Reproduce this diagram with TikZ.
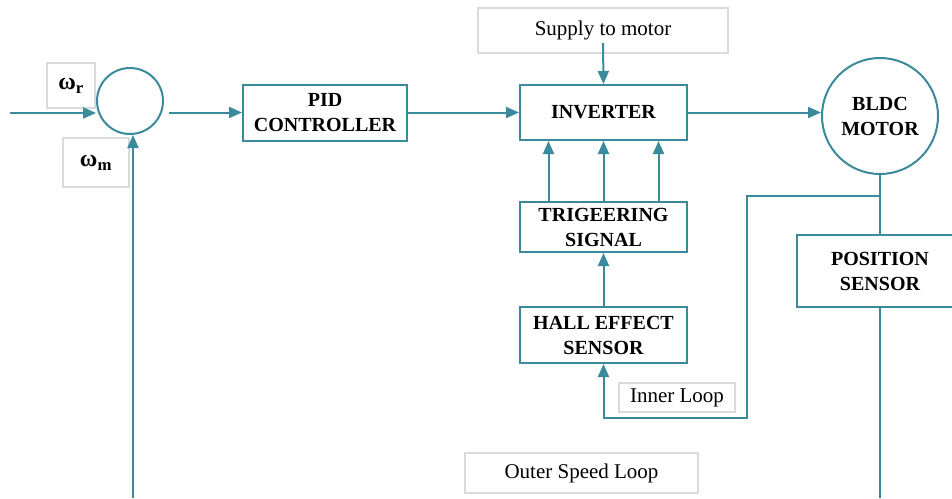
\documentclass[tikz,border=0pt]{standalone}
\usepackage{fontspec}
\setmainfont{Liberation Serif}
\usetikzlibrary{arrows.meta,calc,positioning}
\definecolor{Wire}{HTML}{3A8A9C}
\definecolor{Frame}{HTML}{DADADA}
\tikzset{
  block/.style={
    draw=Wire, line width=2pt, fill=white, align=center,
    font=\fontsize{20}{25}\selectfont\bfseries, inner sep=0pt
  },
  junction/.style={
    circle, draw=Wire, line width=2pt, fill=white, inner sep=0pt,
    align=center, font=\fontsize{20}{25}\selectfont\bfseries
  },
  tag/.style={
    draw=Frame, line width=2.4pt, fill=white, align=center,
    font=\fontsize{21}{25}\selectfont, inner sep=0pt
  },
  flow/.style={-{Triangle[length=13pt,width=11pt]}, line width=2pt, draw=Wire},
  wire/.style={line width=2pt, draw=Wire}
}

\begin{document}
\begin{tikzpicture}[x=1pt,y=-1pt]
    \useasboundingbox (0,0) rectangle (952,498);
    % summing point and its inputs
    \node[junction,minimum size=66pt] (sum) at (130,101) {};
    \node[tag,minimum width=48pt,minimum height=45pt,font=\fontsize{24}{28}\selectfont\bfseries] (wr) at (71,85.5) {ω\textsubscript{r}};
    \node[tag,minimum width=66pt,minimum height=49pt,font=\fontsize{24}{28}\selectfont\bfseries] (wm) at (96,162.5) {ω\textsubscript{m}};
    \coordinate (ref) at (10,113);
    \coordinate (fb) at (133,498);
    % forward path
    \node[block,minimum width=164pt,minimum height=56pt] (pid) at (325,112.5) {PID\\CONTROLLER};
    \node[block,minimum width=167pt,minimum height=55pt] (inv) at (603.5,112.5) {INVERTER};
    \node[tag,minimum width=250pt,minimum height=45pt] (supply) at (603,30.5) {Supply to motor};
    \node[junction,minimum size=116pt] (motor) at (880,116) {BLDC\\MOTOR};
    % inner loop
    \node[block,minimum width=167pt,minimum height=50pt] (trig) at (603.5,227) {TRIGEERING\\SIGNAL};
    \node[block,minimum width=167pt,minimum height=56pt] (hall) at (603.5,335) {HALL EFFECT\\SENSOR};
    \node[tag,minimum width=116pt,minimum height=29pt] (inner) at (677,397.5) {Inner Loop};
    % outer loop
    \node[block,minimum width=166pt,minimum height=72pt] (pos) at (880,271) {POSITION\\SENSOR};
    \node[tag,minimum width=233pt,minimum height=40pt] (outer) at (581.5,473) {Outer Speed Loop};
    \coordinate (tap) at (880,196);
    \coordinate (bend) at (747,418);
    \coordinate (out) at (880,498);

    \draw[flow] (ref) -- (ref -| sum.west);
    \draw[flow] (fb) -- (fb |- sum.south);
    \draw[flow] ([xshift=5pt]sum.east |- pid.west) -- (pid.west);
    \draw[flow] (pid.east) -- (inv.west);
    \draw[flow] ([yshift=11pt]supply.south) -- (inv.north);
    \draw[flow] (inv.east) -- (inv.east -| motor.west);
    \draw[wire] (motor.south) -- (pos.north);
    \draw[wire] (pos.south) -- (out);
    \draw[flow] (tap) -| (bend) -| (hall.south);
    \draw[flow] (hall.north) -- (trig.south);
    \foreach \dx in {-55,0,55}
      \draw[flow] ([xshift=\dx pt]trig.north) -- ([xshift=\dx pt]inv.south);
\end{tikzpicture}
\end{document}
